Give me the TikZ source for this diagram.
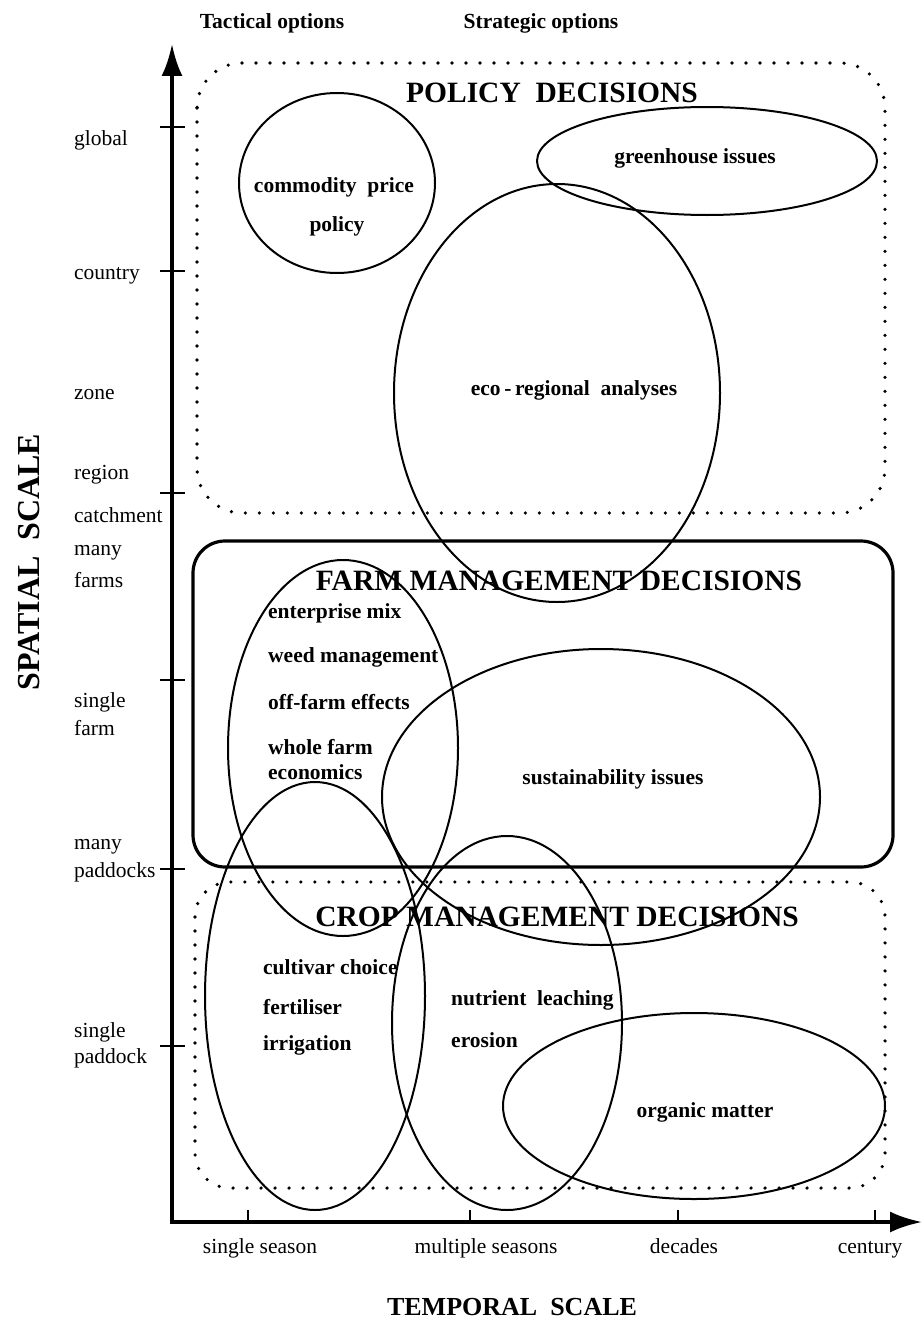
\documentclass[tikz,border=0pt]{standalone}
\usepackage{fontspec}
\setmainfont{Liberation Serif}
\usetikzlibrary{arrows.meta}
\begin{document}
\begin{tikzpicture}[x=1pt,y=-1pt,
  lab/.style={font=\fontsize{21.5}{24}\selectfont, inner sep=0pt, anchor=west},
  xlab/.style={font=\fontsize{21.5}{24}\selectfont, inner sep=0pt, anchor=base},
  blab/.style={font=\fontsize{21.5}{24}\selectfont\bfseries, inner sep=0pt},
  blabw/.style={blab, anchor=west},
  title/.style={font=\fontsize{29.5}{32}\selectfont\bfseries, inner sep=0pt},
  ell/.style={line width=2pt},
  dotbox/.style={line width=3.6pt, line cap=round, dash pattern=on 0pt off 14pt, rounded corners=#1},
  axisline/.style={line width=3.8pt, -{Latex[length=32pt,width=21pt]}},
  tickmark/.style={line width=2.4pt}]
\fill[white] (0,0) rectangle (922,1327);
\useasboundingbox (0,0) rectangle (922,1327);

% axes
\coordinate (O) at (172,1222);
\coordinate (Ytop) at (172,44);
\coordinate (Xend) at (922,1222);
\draw[axisline] ([yshift=-1.9pt]O) -- (Ytop);
\draw[axisline] ([xshift=-1.9pt]O) -- (Xend);
\foreach \yy in {127,271,493,680,869,1046} \draw[tickmark] (160,\yy) -- (185,\yy);
\foreach \xx in {248,470,678,875} \draw[tickmark] (\xx,1222) -- (\xx,1210);

% boxes
\draw[dotbox=45pt] (197,63) rectangle (885,513);
\draw[line width=3.2pt, rounded corners=32pt] (193,541) rectangle (893,867);
\draw[dotbox=35pt] (195,882) rectangle (885,1188);

% ellipses
\draw[ell] (337,183) ellipse [x radius=98pt, y radius=90pt];
\draw[ell] (707,161) ellipse [x radius=170pt, y radius=54pt];
\draw[ell] (557,393) ellipse [x radius=163pt, y radius=209pt];
\draw[ell] (343,748) ellipse [x radius=115pt, y radius=188pt];
\draw[ell] (601,797) ellipse [x radius=219pt, y radius=148pt];
\draw[ell] (315,996) ellipse [x radius=110pt, y radius=214pt];
\draw[ell] (507,1023) ellipse [x radius=115pt, y radius=187pt];
\draw[ell] (694,1106) ellipse [x radius=191pt, y radius=93pt];

% top labels
\node[blab] (tact) at (272,23) {Tactical options};
\node[blab] (strat) at (541,23) {Strategic options};

% titles
\node[title] (pol) at (552,93) {POLICY\ \ DECISIONS};
\node[title] (farm) at (559,581) {FARM MANAGEMENT DECISIONS};
\node[title] (crop) at (557,917) {CROP MANAGEMENT DECISIONS};

% axis titles
\node[font=\fontsize{32}{34}\selectfont\bfseries, rotate=90, inner sep=0pt] (spat) at (29,562) {SPATIAL\ \ SCALE};
\node[font=\fontsize{26}{28}\selectfont\bfseries, inner sep=0pt] (temp) at (512,1307) {TEMPORAL\ \ SCALE};

% spatial labels
\node[lab] (l1) at (74,140) {global};
\node[lab] (l2) at (74,276) {country};
\node[lab] (l3) at (74,395) {zone};
\node[lab] (l4) at (74,475) {region};
\node[lab] (l5) at (74,515) {catchment};
\node[lab] (l6) at (74,553) {many};
\node[lab] (l7) at (74,580) {farms};
\node[lab] (l8) at (74,702) {single};
\node[lab] (l9) at (74,728) {farm};
\node[lab] (l10) at (74,847) {many};
\node[lab] (l11) at (74,872) {paddocks};
\node[lab] (l12) at (74,1032) {single};
\node[lab] (l13) at (74,1058) {paddock};

% temporal labels
\node[xlab] (t1) at (260,1253) {single season};
\node[xlab] (t2) at (486,1253) {multiple seasons};
\node[xlab] (t3) at (684,1253) {decades};
\node[xlab] (t4) at (870,1253) {century};

% ellipse texts
\node[blab] (cp1) at (334,187) {commodity\ \ price};
\node[blab] (cp2) at (337,226) {policy};
\node[blab] (gh) at (695,158) {greenhouse issues};
\node[blab] (eco) at (574,390) {eco\,-\,regional\ \ analyses};
\node[blabw] (f1) at (268,613) {enterprise mix};
\node[blabw] (f2) at (268,657) {weed management};
\node[blabw] (f3) at (268,702) {off-farm effects};
\node[blabw] (f4) at (268,747) {whole farm};
\node[blabw] (f5) at (268,772) {economics};
\node[blab] (sus) at (613,779) {sustainability issues};
\node[blabw] (c1) at (263,967) {cultivar choice};
\node[blabw] (c2) at (263,1007) {fertiliser};
\node[blabw] (c3) at (263,1045) {irrigation};
\node[blabw] (n1) at (451,1000) {nutrient\ \ leaching};
\node[blabw] (n2) at (451,1040) {erosion};
\node[blab] (om) at (705,1112) {organic matter};
\end{tikzpicture}
\end{document}
